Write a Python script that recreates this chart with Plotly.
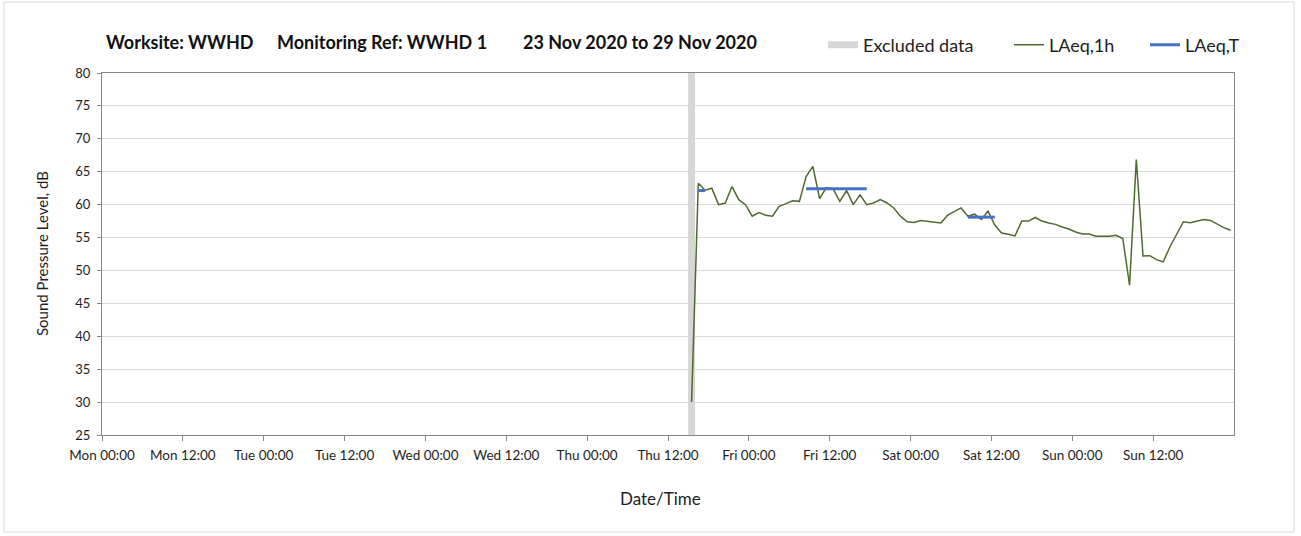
import pandas as pd
import plotly.graph_objects as go

# ---------------- data ----------------
week_start = "2020-11-23 00:00"
week_end = "2020-11-30 00:00"

tick_times = pd.date_range(week_start, "2020-11-29 12:00", freq="12h")
tick_labels = ["Mon 00:00", "Mon 12:00", "Tue 00:00", "Tue 12:00", "Wed 00:00",
               "Wed 12:00", "Thu 00:00", "Thu 12:00", "Fri 00:00", "Fri 12:00",
               "Sat 00:00", "Sat 12:00", "Sun 00:00", "Sun 12:00"]

# excluded data period (centre time)
excluded_times = ["2020-11-26 15:30", "2020-11-26 15:30"]
excluded_levels = [25, 80]

# hourly LAeq,1h
laeq_1h_start = "2020-11-26 15:30"
laeq_1h = [
    30.0, 63.25, 62.2, 62.5, 60.0, 60.25, 62.75, 60.75, 60.0, 58.25,
    58.8, 58.4, 58.25, 59.75, 60.15, 60.6, 60.5, 64.25, 65.8, 60.9,
    62.6, 62.4, 60.5, 62.15, 60.0, 61.5, 60.0, 60.25, 60.75, 60.25,
    59.5, 58.25, 57.4, 57.3, 57.6, 57.5, 57.4, 57.2, 58.4, 59.0,
    59.5, 58.25, 58.55, 57.75, 59.0, 56.9, 55.7, 55.5, 55.25, 57.5,
    57.5, 58.05, 57.5, 57.2, 57.0, 56.6, 56.3, 55.85, 55.55, 55.55,
    55.2, 55.2, 55.2, 55.35, 54.85, 47.75, 66.85, 52.2, 52.25, 51.65,
    51.3, 53.6, 55.5, 57.4, 57.25, 57.5, 57.75, 57.6, 57.0, 56.5,
    56.1,
]
laeq_1h_times = pd.date_range(laeq_1h_start, periods=len(laeq_1h), freq="1h")

# LAeq,T periods
laeq_t_starts = ["2020-11-26 16:30", "2020-11-27 08:30", "2020-11-28 08:30"]
laeq_t_ends = ["2020-11-26 17:30", "2020-11-27 17:30", "2020-11-28 12:30"]
laeq_t_values = [62.15, 62.4, 58.1]

title_parts = ["Worksite: WWHD", "Monitoring Ref: WWHD 1", "23 Nov 2020 to 29 Nov 2020"]

# ---------------- build ----------------
W, H = 1301, 536
L, R, T, B = 102, 67, 73, 101
pw, ph = W - L - R, H - T - B

def px_x(x):
    return (x - L) / pw

def px_y(y):
    return (H - B - y) / ph

FONT = "Lato"
TXT = "#1e1e1e"
AXC = "#878787"
GRID = "#d9d9d9"

t_x, t_y = [], []
for s, e, v in zip(laeq_t_starts, laeq_t_ends, laeq_t_values):
    t_x += [s, e, None]
    t_y += [v, v, None]

fig = go.Figure()
fig.add_trace(go.Scatter(
    x=excluded_times, y=excluded_levels, mode="lines", name="Excluded data",
    line=dict(color="#d6d6d6", width=7), legend="legend", hoverinfo="skip"))
fig.add_trace(go.Scatter(
    x=laeq_1h_times, y=laeq_1h, mode="lines", name="LAeq,1h",
    line=dict(color="#4f6a2e", width=1.5), legend="legend2"))
fig.add_trace(go.Scatter(
    x=t_x, y=t_y, mode="lines", name="LAeq,T",
    line=dict(color="#4472c4", width=3), legend="legend3"))

legend_common = dict(orientation="h", yanchor="middle", y=px_y(45), xanchor="left",
                     bgcolor="rgba(0,0,0,0)", borderwidth=0,
                     font=dict(family=FONT, size=18, color=TXT))

fig.update_layout(
    width=W, height=H,
    margin=dict(l=L, r=R, t=T, b=B, pad=0),
    paper_bgcolor="white", plot_bgcolor="white",
    font=dict(family=FONT, color=TXT, size=13),
    showlegend=True,
    legend=dict(x=px_x(823), **legend_common),
    legend2=dict(x=px_x(1009), **legend_common),
    legend3=dict(x=px_x(1145), **legend_common),
    xaxis=dict(
        type="date", range=[week_start, week_end],
        tickmode="array", tickvals=tick_times, ticktext=tick_labels,
        ticks="outside", ticklen=5, tickcolor=AXC, tickwidth=1,
        showgrid=False, zeroline=False,
        showline=True, linecolor=AXC, linewidth=1, mirror=True,
        tickfont=dict(family=FONT, size=13.5, color=TXT),
        ticklabelstandoff=3,
    ),
    xaxis2=dict(
        type="date", range=[week_start, week_end], overlaying="x", anchor="y",
        tick0=week_start, dtick=86400000, showgrid=True, gridcolor=GRID, gridwidth=1,
        showticklabels=False, ticks="", showline=False, zeroline=False,
    ),
    yaxis=dict(
        range=[25, 80], tick0=25, dtick=5,
        ticks="outside", ticklen=4, tickcolor=AXC,
        showgrid=True, gridcolor=GRID, gridwidth=1, zeroline=False,
        showline=True, linecolor=AXC, linewidth=1, mirror=True,
        tickfont=dict(family=FONT, size=13, color=TXT),
        ticklabelstandoff=4,
    ),
)

annos = []
for text, xp in zip(title_parts, [104, 275, 521]):
    annos.append(dict(text="<b>" + text + "</b>", xref="paper", yref="paper",
                      x=px_x(xp), y=px_y(42), xanchor="left", yanchor="middle",
                      showarrow=False, font=dict(family=FONT, size=18, color="#111")))
annos.append(dict(text="Sound Pressure Level, dB", xref="paper", yref="paper",
                  x=px_x(42), y=px_y(254), xanchor="center", yanchor="middle",
                  textangle=-90, showarrow=False, font=dict(family=FONT, size=15, color=TXT)))
annos.append(dict(text="Date/Time", xref="paper", yref="paper",
                  x=px_x(660), y=px_y(498), xanchor="center", yanchor="middle",
                  showarrow=False, font=dict(family=FONT, size=17, color=TXT)))
fig.update_layout(annotations=annos)

fig.add_shape(type="rect", xref="paper", yref="paper",
              x0=px_x(4), x1=px_x(1294), y0=px_y(532), y1=px_y(2),
              line=dict(color=GRID, width=1), fillcolor="rgba(0,0,0,0)", layer="below")

fig.write_html("out.html")
